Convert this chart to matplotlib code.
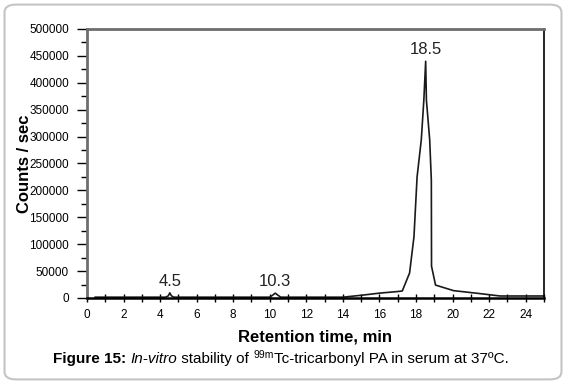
import numpy as np
import matplotlib
matplotlib.use("Agg")
import matplotlib.pyplot as plt
from matplotlib.patches import FancyBboxPatch
from matplotlib.ticker import MultipleLocator

plt.rcParams['font.family'] = ['Liberation Sans', 'DejaVu Sans']

# chromatogram
time_min = [0.45, 4.3, 4.45, 4.53, 4.62, 4.75, 10.0, 10.15, 10.3, 10.45, 10.6,
            14.0, 15.0, 16.0, 17.0, 17.25, 17.65, 17.89, 18.06, 18.29, 18.43,
            18.53, 18.57, 18.75, 18.84, 18.85, 19.07, 20.06, 21.36, 22.6, 25.0]
counts = [1500, 1500, 4000, 9500, 4000, 1500, 1500, 5000, 9000, 5000, 1500,
          1500, 5000, 9000, 12000, 13000, 46500, 114000, 225000, 294000, 368000,
          440000, 368000, 294000, 219000, 59000, 24000, 13600, 8700, 3700, 3700]

peak_labels = ["4.5", "10.3", "18.5"]
peak_x = [4.53, 10.3, 18.53]
peak_y = [9500, 9000, 440000]

fig = plt.figure(figsize=(5.66, 3.84), dpi=100)

# rounded frame round the whole figure
frame = FancyBboxPatch((0.008, 0.012), 0.984, 0.976, boxstyle="round,pad=0,rounding_size=0.02",
                       transform=fig.transFigure, facecolor='none', edgecolor='#c4c4c4',
                       linewidth=1.5, zorder=-1)
fig.patches.append(frame)

ax = fig.add_axes([0.1537, 0.224, 0.8073, 0.7005])
ax.plot(time_min, counts, color='#1a1a1a', lw=1.2)

for lab, px, py in zip(peak_labels, peak_x, peak_y):
    ax.annotate(lab, (px, py), xytext=(0, 3), textcoords='offset points',
                ha='center', va='bottom', fontsize=12, color='#222222')

ax.set_xlim(0, 25)
ax.set_ylim(0, 500000)
ax.xaxis.set_major_locator(MultipleLocator(2))
ax.xaxis.set_minor_locator(MultipleLocator(1))
ax.yaxis.set_major_locator(MultipleLocator(50000))
ax.yaxis.set_minor_locator(MultipleLocator(25000))
ax.tick_params(axis='x', which='both', direction='inout', length=6, width=1, labelsize=8.5, pad=5)
ax.tick_params(axis='y', which='major', direction='out', length=7, width=1, labelsize=8.5, pad=6)
ax.tick_params(axis='y', which='minor', direction='out', length=4, width=1)

for side in ['left', 'top']:
    ax.spines[side].set_color('#6e6e6e')
    ax.spines[side].set_linewidth(2)
ax.spines['right'].set_color('black')
ax.spines['right'].set_linewidth(1.2)
ax.spines['bottom'].set_color('black')
ax.spines['bottom'].set_linewidth(1.8)

ax.set_xlabel('Retention time, min', fontsize=12, fontweight='bold')
ax.set_ylabel('Counts / sec', fontsize=12, fontweight='bold')
ax.xaxis.set_label_coords(0.5, -0.118)
ax.yaxis.set_label_coords(-0.121, 0.5)

# caption built from pieces so bold/italic/superscript line up
pieces = [("Figure 15: ", dict(fontweight='bold'), 0),
          ("In-vitro", dict(style='italic'), 0),
          (" stability of ", dict(), 0),
          ("99m", dict(fontsize=7.5), 4.5),
          ("Tc-tricarbonyl PA in serum at 37ºC.", dict(), 0)]
fig.canvas.draw()
renderer = fig.canvas.get_renderer()
texts = []
widths = []
for s, kw, rise in pieces:
    kw = dict(kw)
    kw.setdefault('fontsize', 11)
    t = fig.text(0, 0, s, va='baseline', ha='left', **kw)
    widths.append(t.get_window_extent(renderer).width)
    texts.append((t, rise))
x = 281 - sum(widths) / 2
base_y = 384 - 363
for (t, rise), w in zip(texts, widths):
    t.set_position((x / 566, (base_y + rise) / 384))
    x += w

fig.savefig('out.png', dpi=100)
